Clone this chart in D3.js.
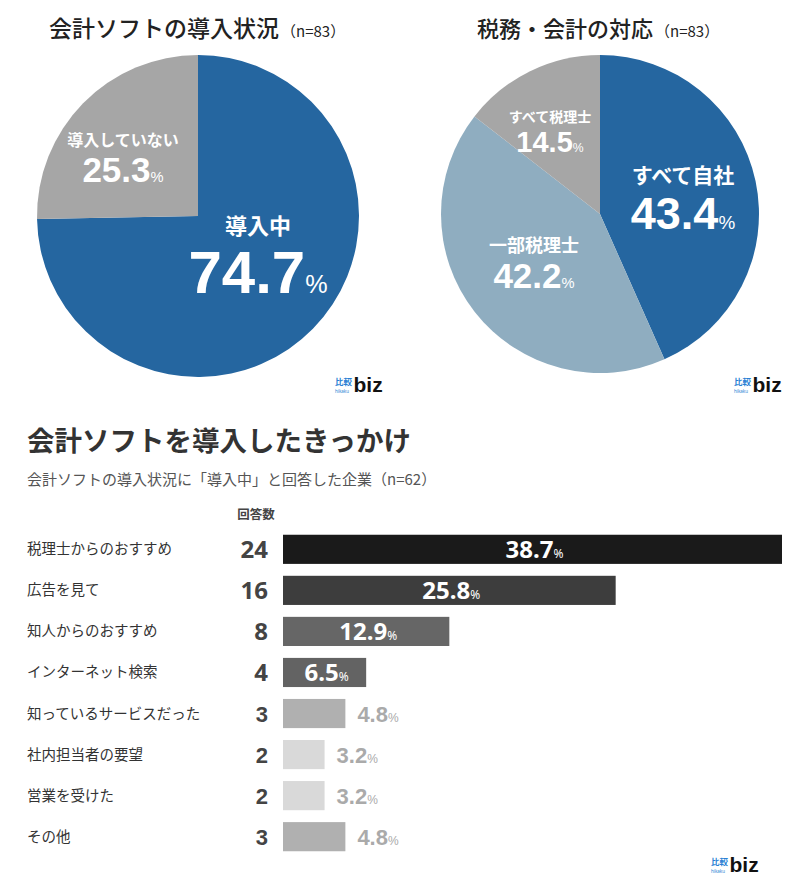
<!DOCTYPE html>
<html><head><meta charset="utf-8">
<script src="https://cdn.jsdelivr.net/npm/d3@7"></script>
<style>body{margin:0;background:#fff}svg{display:block}</style>
</head><body><svg id="c" width="800" height="895"></svg>
<script>
const pie1Labels = ["導入中", "導入していない"];
const pie1Values = [74.7, 25.3];
const pie2Labels = ["すべて自社", "一部税理士", "すべて税理士"];
const pie2Values = [43.4, 42.2, 14.5];
const barCategories = ["税理士からのおすすめ","広告を見て","知人からのおすすめ","インターネット検索","知っているサービスだった","社内担当者の要望","営業を受けた","その他"];
const barCounts = [24, 16, 8, 4, 3, 2, 2, 3];
const barPercents = [38.7, 25.8, 12.9, 6.5, 4.8, 3.2, 3.2, 4.8];

const JP = "'Noto Sans CJK JP','Noto Sans',sans-serif";
const NUM = "'Noto Sans','Noto Sans CJK JP',sans-serif";
const ARIAL = "'Liberation Sans',Arial,sans-serif";
const svg = d3.select("#c");

function title(x, y, main, size) {
  const t = svg.append("text").attr("x", x).attr("y", y).attr("font-family", JP).attr("fill", "#222");
  t.append("tspan").attr("font-size", size).attr("font-weight", 500).text(main);
  t.append("tspan").attr("font-size", 15).attr("dx", 2).text("（n=83）");
}
title(49, 37, "会計ソフトの導入状況", 23);
title(477, 37, "税務・会計の対応", 22);

function drawPie(cx, cy, r, values, colors, labels) {
  const g = svg.append("g").attr("transform", `translate(${cx},${cy})`);
  const arcs = d3.pie().sort(null).value(d => d)(values);
  const arc = d3.arc().innerRadius(0).outerRadius(r);
  g.selectAll("path").data(arcs).join("path").attr("d", arc).attr("fill", (d, i) => colors[i]);
  labels.forEach(l => {
    g.append("text").attr("x", l.x).attr("y", l.y1).attr("text-anchor", "middle")
      .attr("font-family", JP).attr("font-weight", 700).attr("font-size", l.s1).attr("fill", "#fff").text(l.name);
    const t2 = g.append("text").attr("x", l.x).attr("y", l.y2).attr("text-anchor", "middle")
      .attr("font-family", ARIAL).attr("font-weight", 700).attr("font-size", l.s2).attr("fill", "#fff");
    t2.append("tspan").text(l.val.toFixed(1));
    t2.append("tspan").attr("font-size", l.s2 * 0.42).attr("font-weight", 400).text("%");
  });
}
drawPie(198, 216, 161, pie1Values, ["#2566a0", "#a6a6a6"], [
  {name: pie1Labels[0], val: pie1Values[0], x: 60, y1: 18, y2: 77, s1: 22, s2: 60},
  {name: pie1Labels[1], val: pie1Values[1], x: -75, y1: -70, y2: -34, s1: 16, s2: 35}
]);
drawPie(600, 214, 159, pie2Values, ["#2566a0", "#8fadc0", "#a6a6a6"], [
  {name: pie2Labels[0], val: pie2Values[0], x: 83, y1: -31, y2: 15, s1: 21, s2: 45},
  {name: pie2Labels[1], val: pie2Values[1], x: -66, y1: 38, y2: 74, s1: 18, s2: 35},
  {name: pie2Labels[2], val: pie2Values[2], x: -50, y1: -92, y2: -62, s1: 14, s2: 29}
]);

function logo(x, y) {
  const g = svg.append("g").attr("transform", `translate(${x},${y})`);
  g.append("text").attr("x", 0).attr("y", -2).attr("font-family", JP).attr("font-weight", 700)
    .attr("font-size", 8.5).attr("fill", "#2a7fd4").text("比較");
  g.append("text").attr("x", 0).attr("y", 5.5).attr("font-family", NUM)
    .attr("font-size", 4.5).attr("fill", "#2a7fd4").text("hikaku");
  g.append("text").attr("x", 18.5).attr("y", 5).attr("font-family", ARIAL).attr("font-weight", 700)
    .attr("font-size", 21).attr("fill", "#111").text("biz");
}
logo(335, 387);
logo(734, 387);
logo(711, 867);

svg.append("text").attr("x", 27).attr("y", 451).attr("font-family", JP).attr("font-weight", 700)
  .attr("font-size", 27.5).attr("fill", "#333").text("会計ソフトを導入したきっかけ");
svg.append("text").attr("x", 27).attr("y", 485).attr("font-family", JP)
  .attr("font-size", 15).attr("fill", "#555").text("会計ソフトの導入状況に「導入中」と回答した企業（n=62）");
svg.append("text").attr("x", 256).attr("y", 519).attr("text-anchor", "middle").attr("font-family", JP)
  .attr("font-weight", 700).attr("font-size", 12.5).attr("fill", "#444").text("回答数");

const x = d3.scaleLinear().domain([0, 24]).range([283, 782]);
const y = d3.scaleBand().domain(barCategories).range([529, 857]).paddingInner(0.29).paddingOuter(0.14);
const barColors = ["#1a1a1a", "#3d3d3d", "#666666", "#636363", "#b0b0b0", "#d9d9d9", "#d9d9d9", "#b0b0b0"];
const rows = barCategories.map((c, i) => ({c, n: barCounts[i], p: barPercents[i], col: barColors[i], i}));
const rg = svg.append("g");
rows.forEach(d => {
  const yc = y(d.c) + y.bandwidth() / 2;
  rg.append("text").attr("x", 27).attr("y", yc + 5).attr("font-family", JP).attr("font-size", 14.5)
    .attr("fill", "#333").text(d.c);
  const big = d.n >= 4;
  rg.append("text").attr("x", 268).attr("y", yc + 8.5).attr("text-anchor", "end")
    .attr("font-family", big ? NUM : ARIAL)
    .attr("font-weight", 700).attr("font-size", big ? 24 : 22).attr("fill", "#444").text(d.n);
  rg.append("rect").attr("x", x(0)).attr("y", y(d.c)).attr("width", x(d.n) - x(0))
    .attr("height", y.bandwidth()).attr("fill", d.col);
  const t = rg.append("text").attr("y", yc + 8.5).attr("font-weight", 700);
  if (big) {
    t.attr("x", (x(0) + x(d.n)) / 2 + 2).attr("text-anchor", "middle").attr("fill", "#fff")
      .attr("font-family", NUM).attr("font-size", 24);
  } else {
    t.attr("x", x(d.n) + 12).attr("text-anchor", "start").attr("fill", "#aaa")
      .attr("font-family", ARIAL).attr("font-size", 22);
  }
  t.append("tspan").text(d.p.toFixed(1));
  t.append("tspan").attr("font-size", 12).attr("font-weight", 400).text("%");
});
</script></body></html>
